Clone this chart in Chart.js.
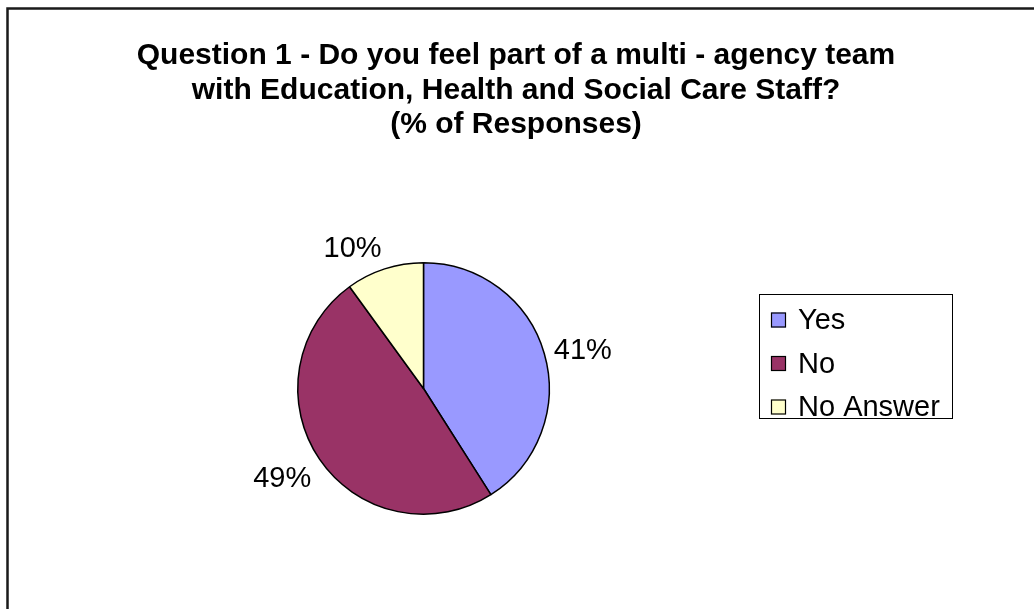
<!DOCTYPE html>
<html>
<head>
<meta charset="utf-8">
<script src="https://cdn.jsdelivr.net/npm/chart.js@4.4.1/dist/chart.umd.min.js"></script>
<style>
  html, body { margin: 0; padding: 0; background: #fff; }
  canvas { display: block; }
</style>
</head>
<body>
<canvas id="q1_pie" width="1034" height="609"></canvas>
<script>
//Survey answers, question 1

const answers = ["Yes", "No", "No Answer"]
const percents = [41, 49, 10]
const sliceColours = ["#9999FF", "#993366", "#FFFFCC"]
const titleLines = [
  "Question 1 - Do you feel part of a multi - agency team",
  "with Education, Health and Social Care Staff?",
  "(% of Responses)"
]

const FONT = '"Liberation Sans", Arial, sans-serif'

const data1 = {
  labels: answers,
  datasets: [{label: "Responses", data: percents, backgroundColor: sliceColours, borderColor: '#000', borderWidth: 1.5}]
};

//------------------------------------------

//frame + title, drawn around the pie
const frameTitle = {
  id: 'frameTitle',
  beforeDraw(chart){
    const {ctx} = chart;
    ctx.save();
    ctx.fillStyle = '#fff';
    ctx.fillRect(0, 0, chart.width, chart.height);
    ctx.strokeStyle = '#1a1a1a';
    ctx.lineWidth = 2.5;
    ctx.strokeRect(7.5, 8.5, chart.width + 20, chart.height + 20);
    ctx.restore();
  },
  afterDraw(chart){
    const {ctx} = chart;
    ctx.save();
    ctx.font = 'bold 30px ' + FONT;
    ctx.fillStyle = '#000';
    ctx.textAlign = 'center';
    ctx.textBaseline = 'alphabetic';
    titleLines.forEach((line, i) => ctx.fillText(line, 516, 64 + i * 34.5));
    ctx.restore();
  }
};

//percent labels outside each slice
const sliceLabels = {
  id: 'sliceLabels',
  afterDatasetsDraw(chart){
    const {ctx} = chart;
    const arcs = chart.getDatasetMeta(0).data;
    ctx.save();
    ctx.font = '29px ' + FONT;
    ctx.fillStyle = '#000';
    arcs.forEach((arc, i) => {
      const mid = (arc.startAngle + arc.endAngle) / 2;
      const r = arc.outerRadius + 10;
      const s = Math.sin(mid);
      const x = arc.x + Math.cos(mid) * r;
      const y = arc.y + s * r;
      ctx.textAlign = Math.cos(mid) >= 0 ? 'left' : 'right';
      ctx.textBaseline = s > 0.5 ? 'top' : (s < -0.5 ? 'alphabetic' : 'middle');
      ctx.fillText(percents[i] + '%', x, s < -0.5 ? y - 2 : y);
    });
    ctx.restore();
  }
};

//boxed legend on the right
const boxLegend = {
  id: 'boxLegend',
  afterDraw(chart){
    const {ctx} = chart;
    const ds = chart.data.datasets[0];
    ctx.save();
    ctx.strokeStyle = '#000';
    ctx.lineWidth = 1;
    ctx.strokeRect(759.5, 294.5, 193, 124);
    ctx.font = '29px ' + FONT;
    ctx.textBaseline = 'middle';
    ctx.textAlign = 'left';
    chart.data.labels.forEach((lbl, i) => {
      const cy = 320 + i * 43.5;
      ctx.fillStyle = ds.backgroundColor[i];
      ctx.fillRect(771, cy - 7.5, 15, 15);
      ctx.strokeStyle = '#000';
      ctx.lineWidth = 1.2;
      ctx.strokeRect(771.5, cy - 7, 14, 14);
      ctx.fillStyle = '#000';
      ctx.fillText(lbl, 798, cy + 1);
    });
    ctx.restore();
  }
};

//------------------------------------------

const config1 = {
  type: "pie",
  data: data1,
  options: {
    responsive: false,
    animation: false,
    devicePixelRatio: 1,
    layout: {padding: {left: 297, right: 484, top: 262, bottom: 94}},
    plugins: {
      legend: {display: false},
      title: {display: false},
      tooltip: {enabled: false}
    }
  },
  plugins: [frameTitle, sliceLabels, boxLegend]
};

const q1_pie = new Chart(document.getElementById("q1_pie"), config1);
</script>
</body>
</html>
